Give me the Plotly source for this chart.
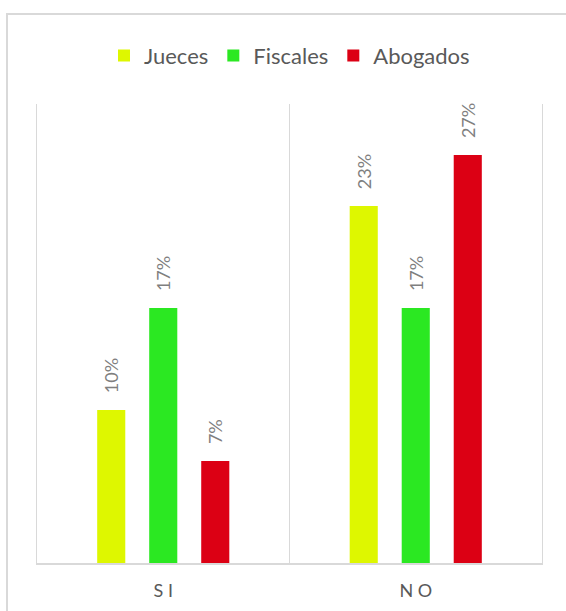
import plotly.graph_objects as go

categories = ["SI", "NO"]
tick_labels = ["S I", "N O"]
series_names = ["Jueces", "Fiscales", "Abogados"]
jueces = [0.10, 0.2333]
fiscales = [0.1667, 0.1667]
abogados = [0.0667, 0.2667]
colors = ["#DEF700", "#2BE822", "#DC0014"]

FONT = "Lato"
pad = "\u00a0" * 3

fig = go.Figure()
for name, vals, col in zip(series_names, [jueces, fiscales, abogados], colors):
    fig.add_trace(go.Bar(
        name=name, x=categories, y=vals, marker=dict(color=col, line=dict(width=0)),
        texttemplate=pad + "%{y:.0%}", textposition="outside", textangle=-90,
        constraintext="none", cliponaxis=False,
        textfont=dict(family=FONT, size=18, color="#7f7f7f"),
        hoverinfo="skip",
    ))

fig.update_layout(
    width=566, height=611,
    margin=dict(l=37, r=24, t=104, b=48),
    paper_bgcolor="white", plot_bgcolor="white",
    barmode="group", bargap=0.382, bargroupgap=0.46,
    font=dict(family=FONT, color="#595959"),
    showlegend=True,
    legend=dict(orientation="h", x=0.5, xanchor="center", y=1.105, yanchor="middle",
                font=dict(family=FONT, size=22, color="#595959"), itemwidth=30,
                traceorder="normal"),
    xaxis=dict(type="category", tickmode="array", tickvals=categories, ticktext=tick_labels,
               tickson="boundaries", ticks="", showgrid=True, gridcolor="#d9d9d9", gridwidth=1.3,
               showline=True, linecolor="#d9d9d9", linewidth=1.5, automargin=False,
               tickfont=dict(family=FONT, size=18, color="#595959"), ticklabelstandoff=11),
    yaxis=dict(range=[0, 0.3], showticklabels=False, showgrid=False, zeroline=False,
               automargin=False,
               showline=True, mirror=True, linecolor="#d9d9d9", linewidth=1.3, ticks=""),
    shapes=[dict(type="rect", xref="paper", yref="paper", x0=-0.0594, x1=1.2, y0=-0.3, y1=1.196,
                 line=dict(color="#d9d9d9", width=2), layer="below")],
)

fig.write_html("out.html", config={"displayModeBar": False},
               post_script="document.body.style.margin='0';document.body.style.overflow='hidden';")
